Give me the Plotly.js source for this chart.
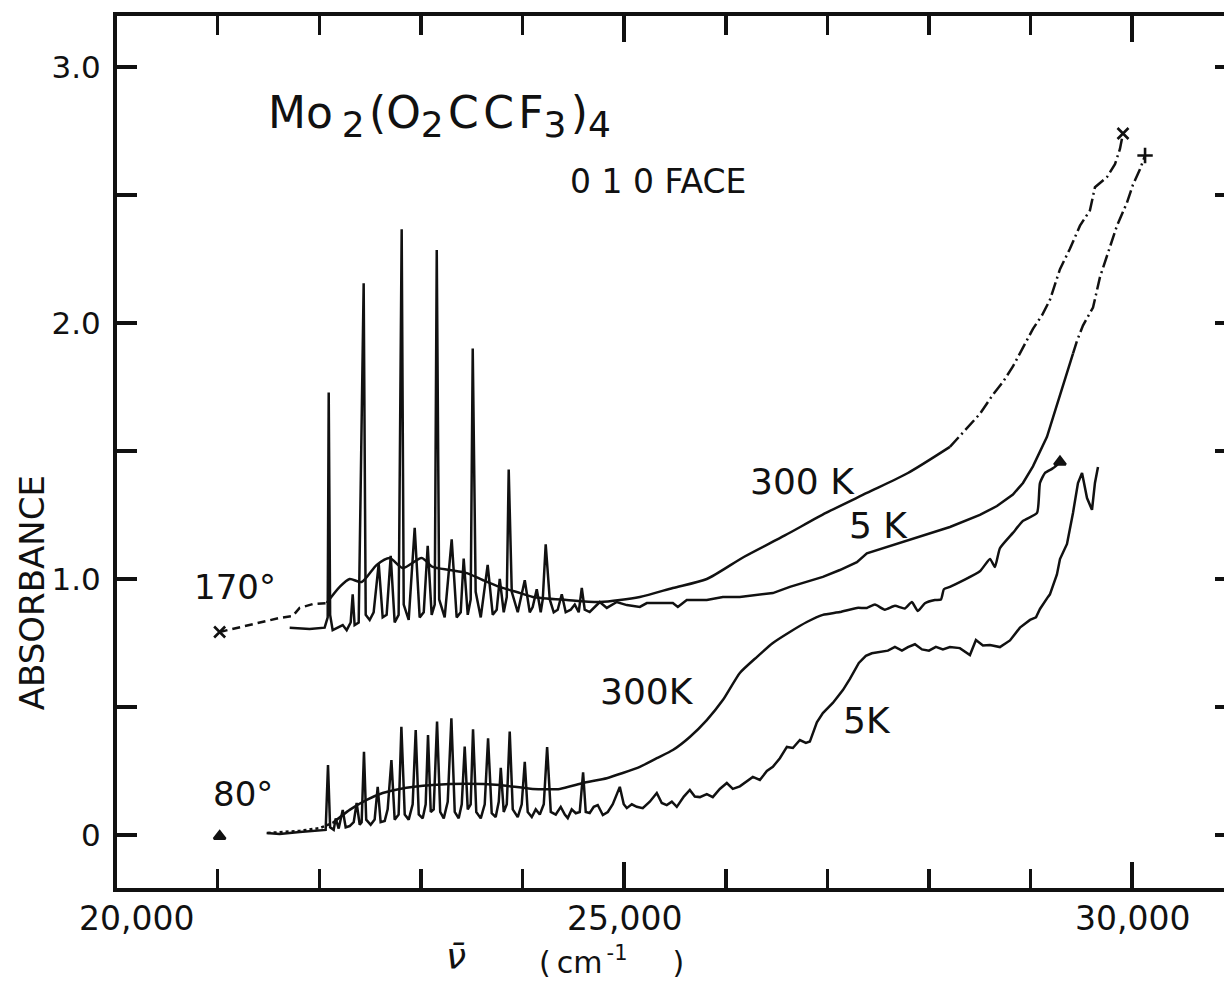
<!DOCTYPE html>
<html>
<head>
<meta charset="utf-8">
<script src="https://cdn.plot.ly/plotly-3.0.1.min.js"></script>
<style>
  html, body { margin: 0; padding: 0; background: #fff; overflow: hidden; width: 1224px; height: 981px; }
  #chart { width: 1240px; height: 981px; }
</style>
</head>
<body>
<div id="chart"></div>
<script>
// ---------- DATA (wavenumber in cm^-1, absorbance) ----------
// 170° orientation, 300 K
const a300_170_start = [[21020,0.793],[21315,0.82],[21610,0.848],[21738,0.855],[21807,0.887],[21935,0.902],[22073,0.906]];
const a300_170_main = [[22073,0.906],[22201,0.969],[22299,1.00],[22417,0.988],[22565,1.055],[22693,1.082],[22821,1.043],[23008,1.082],[23116,1.047],[23284,1.035],[23451,1.023],[23608,0.996],[23776,0.969],[23943,0.949],[24101,0.93],[24435,0.918],[24760,0.91],[25154,0.93],[25479,0.965],[25813,1.00],[26177,1.086],[26581,1.17],[26985,1.258],[27388,1.336],[27792,1.414],[28205,1.516]];
const a300_170_end = [[28205,1.516],[28500,1.645],[28628,1.72],[28727,1.77],[28825,1.83],[28924,1.905],[29022,1.977],[29111,2.03],[29189,2.09],[29288,2.21],[29386,2.29],[29485,2.38],[29583,2.44],[29632,2.53],[29751,2.57],[29829,2.62],[29878,2.68],[29908,2.74]];

// 170° orientation, 5 K
const a5_170_main = [[21709,0.81],[21905,0.805],[22053,0.81],[22083,0.85],[22093,1.728],[22107,0.86],[22132,0.80],[22181,0.81],[22231,0.82],[22270,0.80],[22309,0.83],[22329,0.94],[22348,0.82],[22388,0.83],[22437,2.155],[22457,0.86],[22496,0.84],[22535,0.87],[22585,1.06],[22624,0.85],[22663,0.86],[22703,1.09],[22742,0.83],[22781,0.86],[22811,2.366],[22831,0.90],[22880,0.84],[22939,1.20],[22988,0.85],[23028,0.87],[23067,1.13],[23106,0.86],[23136,0.90],[23156,2.285],[23180,0.92],[23234,0.85],[23303,1.155],[23352,0.85],[23392,0.87],[23421,1.08],[23461,0.86],[23490,0.92],[23510,1.90],[23539,0.95],[23589,0.85],[23657,1.055],[23707,0.86],[23746,0.88],[23776,1.00],[23815,0.87],[23845,0.93],[23864,1.428],[23894,0.95],[23953,0.87],[24022,0.995],[24071,0.87],[24100,0.89],[24140,0.96],[24179,0.87],[24199,0.92],[24228,1.135],[24268,0.92],[24307,0.87],[24346,0.88],[24386,0.94],[24425,0.87],[24474,0.88],[24514,0.90],[24553,0.87],[24583,0.965],[24612,0.88],[24661,0.871],[24760,0.91],[24829,0.887],[24927,0.91],[25026,0.898],[25154,0.891],[25223,0.906],[25351,0.906],[25479,0.906],[25528,0.891],[25616,0.918],[25813,0.918],[25971,0.93],[26138,0.93],[26305,0.938],[26463,0.945],[26630,0.969],[26797,0.988],[26955,1.008],[27122,1.035],[27290,1.066],[27388,1.10],[27792,1.152],[28205,1.203],[28500,1.25],[28668,1.285],[28825,1.33],[28924,1.375],[29022,1.44],[29091,1.50],[29160,1.555],[29219,1.63],[29288,1.72],[29357,1.81],[29416,1.88]];
const a5_170_end = [[29416,1.88],[29455,1.93],[29514,1.99],[29613,2.06],[29682,2.18],[29760,2.27],[29849,2.38],[29947,2.47],[30006,2.54],[30075,2.60],[30125,2.654]];

// 80° orientation, 300 K
const b300_80_mark = [[21020,-0.005]];
const b300_80_start = [[21492,0.008],[21807,0.016],[22004,0.027],[22132,0.047]];
const b300_80_main = [[22132,0.047],[22299,0.098],[22467,0.137],[22624,0.164],[22791,0.18],[23116,0.195],[23451,0.20],[23776,0.195],[24100,0.18],[24366,0.18],[24593,0.203],[24829,0.222],[24986,0.242],[25154,0.266],[25321,0.30],[25479,0.332],[25646,0.383],[25813,0.449],[25971,0.527],[26138,0.633],[26305,0.695],[26463,0.75],[26630,0.793],[26797,0.832],[26955,0.86],[27122,0.871],[27290,0.887],[27388,0.887],[27467,0.90],[27565,0.88],[27664,0.895],[27762,0.885],[27831,0.91],[27890,0.875],[27959,0.905],[28057,0.918],[28117,0.92],[28146,0.96],[28205,0.969],[28500,1.03],[28599,1.078],[28648,1.047],[28697,1.12],[28825,1.18],[28924,1.227],[29062,1.258],[29091,1.375],[29140,1.414],[29209,1.43],[29258,1.445],[29288,1.457]];

// 80° orientation, 5 K
const b5_80_main = [[21482,0.008],[21610,0.004],[21807,0.012],[22004,0.016],[22063,0.02],[22086,0.273],[22107,0.03],[22142,0.02],[22162,0.065],[22191,0.025],[22231,0.098],[22260,0.03],[22299,0.035],[22339,0.05],[22368,0.125],[22398,0.04],[22417,0.05],[22440,0.325],[22462,0.06],[22506,0.04],[22545,0.06],[22575,0.188],[22604,0.05],[22644,0.055],[22673,0.10],[22710,0.293],[22742,0.06],[22781,0.08],[22808,0.423],[22841,0.08],[22880,0.06],[22919,0.12],[22949,0.41],[22979,0.08],[23018,0.065],[23047,0.12],[23070,0.39],[23097,0.09],[23126,0.10],[23159,0.443],[23190,0.09],[23225,0.065],[23264,0.13],[23300,0.456],[23333,0.09],[23372,0.065],[23402,0.12],[23431,0.345],[23461,0.10],[23490,0.12],[23513,0.413],[23545,0.09],[23589,0.065],[23628,0.12],[23661,0.378],[23697,0.085],[23736,0.07],[23766,0.13],[23786,0.262],[23815,0.09],[23845,0.12],[23874,0.404],[23904,0.10],[23953,0.07],[23992,0.12],[24022,0.286],[24051,0.09],[24091,0.07],[24130,0.10],[24170,0.08],[24209,0.12],[24242,0.343],[24278,0.09],[24327,0.08],[24376,0.11],[24416,0.08],[24445,0.066],[24484,0.10],[24524,0.085],[24563,0.09],[24596,0.245],[24622,0.09],[24661,0.086],[24701,0.11],[24740,0.117],[24790,0.078],[24839,0.09],[24888,0.12],[24957,0.188],[24996,0.12],[25026,0.105],[25075,0.12],[25124,0.11],[25183,0.105],[25252,0.13],[25321,0.164],[25370,0.125],[25419,0.117],[25469,0.13],[25518,0.11],[25587,0.15],[25646,0.176],[25695,0.15],[25745,0.148],[25813,0.16],[25872,0.148],[25941,0.18],[26010,0.203],[26069,0.18],[26138,0.19],[26207,0.21],[26266,0.227],[26335,0.215],[26404,0.25],[26463,0.266],[26532,0.30],[26601,0.344],[26660,0.34],[26729,0.371],[26788,0.36],[26827,0.365],[26896,0.44],[26955,0.476],[27053,0.516],[27152,0.566],[27221,0.61],[27309,0.672],[27378,0.70],[27437,0.71],[27516,0.715],[27595,0.72],[27664,0.735],[27733,0.72],[27792,0.734],[27861,0.745],[27930,0.725],[27999,0.72],[28067,0.735],[28136,0.725],[28205,0.734],[28303,0.73],[28402,0.703],[28461,0.762],[28530,0.74],[28599,0.742],[28697,0.734],[28796,0.76],[28894,0.81],[28993,0.84],[29052,0.85],[29091,0.883],[29170,0.93],[29189,0.94],[29258,1.018],[29288,1.078],[29357,1.137],[29416,1.258],[29465,1.375],[29505,1.414],[29554,1.316],[29603,1.27],[29632,1.375],[29662,1.437]];

// axis ticks
const yTickVals = [0, 1, 2, 3];
const yTickText = ['0', '1.0', '2.0', '3.0'];
const yMinorVals = [0.5, 1.5, 2.5];
const xMajorVals = [25000, 30000];
const xMinorVals = [21000, 22000, 23000, 24000, 26000, 27000, 28000, 29000];
// x tick labels: [label, position in cm^-1]
const xLabels = [['20,000', 20203], ['25,000', 25000], ['30,000', 30000]];

// ---------- STYLE ----------
const INK = '#111';
const FONT = 'DejaVu Sans, sans-serif';
const LW = 2.5;
const xs = d => d.map(p => p[0]);
const ys = d => d.map(p => p[1]);
const line = (d, dash, smooth) => ({x: xs(d), y: ys(d), type: 'scatter', mode: 'lines',
  line: {color: INK, width: LW, dash: dash || 'solid', shape: smooth ? 'spline' : 'linear', smoothing: smooth || 0},
  hoverinfo: 'skip'});
const mark = (pts, symbol, size, filled) => ({x: xs(pts), y: ys(pts), type: 'scatter', mode: 'markers',
  marker: {symbol, size, color: filled ? INK : 'rgba(0,0,0,0)', line: {color: INK, width: 2.6}}, hoverinfo: 'skip'});

const DASH = '8px,5px';
const DASHDOT = '13px,4px,2px,4px';

const traces = [
  line(a300_170_start, DASH),
  line(a300_170_main, null, 0.7),
  line(a300_170_end, DASHDOT),
  line(a5_170_main),
  line(a5_170_end, DASHDOT),
  line(b300_80_start, '3px,3px'),
  line(b300_80_main, null, 0.5),
  line(b5_80_main),
  mark([a300_170_start[0], a300_170_end[a300_170_end.length - 1]], 'x-thin', 11, true),
  mark([a5_170_end[a5_170_end.length - 1]], 'cross-thin', 11, true),
  mark([b300_80_mark[0], b300_80_main[b300_80_main.length - 1]], 'triangle-up', 10, true),
  mark([b5_80_main[b5_80_main.length - 1]], 'circle-open', 10, false)
];

const ann = (text, x, y, size, extra) => Object.assign({
  text, x, y, xref: 'x', yref: 'y', showarrow: false,
  font: {family: FONT, size, color: INK}, xanchor: 'center', yanchor: 'middle'
}, extra || {});

const S = t => '<sub><span style="font-size:36px">' + t + '</span></sub>';

const annotations = [
  ann('Mo\u2009' + S('2') + '\u200a(O' + S('2') + '\u200aC\u200aC\u200aF' + S('3') + '\u200a)' + S('4'), 23185, 2.807, 44),
  ann('0 1 0 FACE', 25331, 2.553, 33),
  ann('170°', 21167, 0.967, 34),
  ann('80°', 21251, 0.160, 34),
  ann('300 K', 26753, 1.381, 36),
  ann('5 K', 27501, 1.209, 36),
  ann('300K', 25227, 0.5605, 36),
  ann('5K', 27393, 0.447, 36),
  ann('ABSORBANCE', -0.076, 0.338, 34, {xref: 'paper', yref: 'paper', textangle: -90}),
  ann('<i>ν\u0304</i>', 0.3032, -0.078, 36, {xref: 'paper', yref: 'paper'}),
  ann('(\u2009cm<sup>\u2009-1</sup>\u2003\u2002)', 0.442, -0.083, 30, {xref: 'paper', yref: 'paper'})
].concat(xLabels.map(l => ann(l[0], l[1], -0.035, 33, {yref: 'paper'})));

const layout = {
  width: 1240, height: 981,
  margin: {l: 117, r: 5, t: 16, b: 93},
  paper_bgcolor: '#fff', plot_bgcolor: '#fff',
  showlegend: false,
  font: {family: FONT, color: INK},
  xaxis: {
    range: [20010, 31010], showgrid: false, zeroline: false,
    showline: true, linewidth: 4, linecolor: INK, mirror: 'ticks',
    ticks: 'inside', tickmode: 'array', tickvals: xMajorVals, showticklabels: false,
    ticklen: 26, tickwidth: 4, tickcolor: INK,
    minor: {tickmode: 'array', tickvals: xMinorVals, ticks: 'inside', ticklen: 19, tickwidth: 3.5, tickcolor: INK, showgrid: false}
  },
  yaxis: {
    range: [-0.207, 3.199], showgrid: false, zeroline: false,
    showline: true, linewidth: 4, linecolor: INK, mirror: 'ticks',
    ticks: 'inside', tickmode: 'array', tickvals: yTickVals, ticktext: yTickText,
    ticklen: 20, tickwidth: 4, tickcolor: INK,
    tickfont: {family: FONT, size: 31, color: INK}, ticklabelstandoff: 6,
    minor: {tickmode: 'array', tickvals: yMinorVals, ticks: 'inside', ticklen: 20, tickwidth: 4, tickcolor: INK, showgrid: false}
  },
  annotations
};

Plotly.newPlot('chart', traces, layout, {staticPlot: true, displayModeBar: false});
</script>
</body>
</html>
